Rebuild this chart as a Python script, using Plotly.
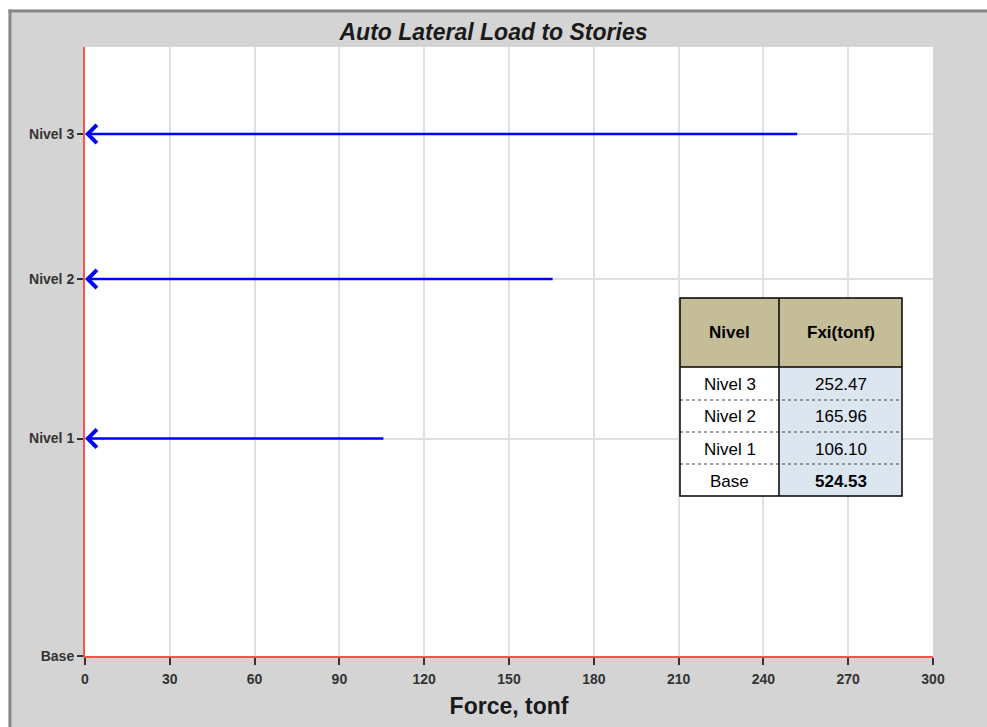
import plotly.graph_objects as go

# ---- data ----
levels = ["Base", "Nivel 1", "Nivel 2", "Nivel 3"]
elevations = [0.0, 4.5, 7.8, 10.8]          # story elevations (read from spacing)
forces = [0.0, 106.10, 165.96, 252.47]       # Fxi (tonf)
table_header = ["Nivel", "Fxi(tonf)"]
table_levels = ["Nivel 3", "Nivel 2", "Nivel 1", "Base"]
table_values = ["252.47", "165.96", "106.10", "524.53"]
x_ticks = [0, 30, 60, 90, 120, 150, 180, 210, 240, 270, 300]

W, H = 987, 727
L, R, T, B = 85, 54, 47, 71
pw, ph = W - L - R, H - T - B

def px_x(p):
    return (p - L) / pw

def px_y(p):
    return (H - B - p) / ph

fig = go.Figure()

# invisible trace to set up axes
fig.add_trace(go.Scatter(x=[0, 300], y=[0, 12.6], mode="markers",
                         marker=dict(opacity=0), hoverinfo="skip", showlegend=False))

# arrows
for lvl, e, f in zip(levels, elevations, forces):
    if f <= 0:
        continue
    fig.add_annotation(x=0, y=e, ax=f, ay=e, xref="x", yref="y", axref="x", ayref="y",
                       text="", showarrow=True, arrowhead=4, arrowsize=1.4,
                       arrowwidth=2.5, arrowcolor="#0000FF", standoff=0, startstandoff=0)

# frame: white strip on top/left, dark border
shapes = [
    dict(type="rect", xref="paper", yref="paper", x0=px_x(-5), x1=px_x(W + 5),
         y0=px_y(9.5), y1=px_y(-5), fillcolor="white", line=dict(width=0), layer="below"),
    dict(type="rect", xref="paper", yref="paper", x0=px_x(-5), x1=px_x(8.5),
         y0=px_y(H + 5), y1=px_y(-5), fillcolor="white", line=dict(width=0), layer="below"),
    dict(type="line", xref="paper", yref="paper", x0=px_x(8.5), x1=px_x(W + 5),
         y0=px_y(11), y1=px_y(11), line=dict(color="#878787", width=3), layer="below"),
    dict(type="line", xref="paper", yref="paper", x0=px_x(10), x1=px_x(10),
         y0=px_y(9.5), y1=px_y(H + 5), line=dict(color="#878787", width=3), layer="below"),
]

# table (drawn with shapes + text annotations)
cx = [680, 779, 902]
ry = [298, 367, 400, 432, 464, 496]
shapes.append(dict(type="rect", xref="paper", yref="paper", x0=px_x(cx[0]), x1=px_x(cx[2]),
                   y0=px_y(ry[1]), y1=px_y(ry[0]), fillcolor="#C4BD97", line=dict(width=0)))
shapes.append(dict(type="rect", xref="paper", yref="paper", x0=px_x(cx[0]), x1=px_x(cx[1]),
                   y0=px_y(ry[5]), y1=px_y(ry[1]), fillcolor="white", line=dict(width=0)))
shapes.append(dict(type="rect", xref="paper", yref="paper", x0=px_x(cx[1]), x1=px_x(cx[2]),
                   y0=px_y(ry[5]), y1=px_y(ry[1]), fillcolor="#DCE6F1", line=dict(width=0)))
for yy in ry[2:5]:
    shapes.append(dict(type="line", xref="paper", yref="paper", x0=px_x(cx[0]), x1=px_x(cx[2]),
                       y0=px_y(yy), y1=px_y(yy), line=dict(color="#444444", width=1.2, dash="dot")))
shapes.append(dict(type="line", xref="paper", yref="paper", x0=px_x(cx[0]), x1=px_x(cx[2]),
                   y0=px_y(ry[1]), y1=px_y(ry[1]), line=dict(color="black", width=1.5)))
shapes.append(dict(type="line", xref="paper", yref="paper", x0=px_x(cx[1]), x1=px_x(cx[1]),
                   y0=px_y(ry[5]), y1=px_y(ry[0]), line=dict(color="black", width=1.5)))
shapes.append(dict(type="rect", xref="paper", yref="paper", x0=px_x(cx[0]), x1=px_x(cx[2]),
                   y0=px_y(ry[5]), y1=px_y(ry[0]), fillcolor="rgba(0,0,0,0)",
                   line=dict(color="black", width=1.5)))

tfont = dict(family="Liberation Sans, Arial", size=17, color="black")
for j, h in enumerate(table_header):
    fig.add_annotation(xref="paper", yref="paper", x=px_x((cx[j] + cx[j + 1]) / 2),
                       y=px_y((ry[0] + ry[1]) / 2), text=f"<b>{h}</b>", showarrow=False,
                       font=tfont, xanchor="center", yanchor="middle")
for i, (lv, val) in enumerate(zip(table_levels, table_values)):
    yc = px_y((ry[i + 1] + ry[i + 2]) / 2 + 1)
    fig.add_annotation(xref="paper", yref="paper", x=px_x((cx[0] + cx[1]) / 2), y=yc,
                       text=lv, showarrow=False, font=tfont, xanchor="center", yanchor="middle")
    txt = f"<b>{val}</b>" if lv == "Base" else val
    fig.add_annotation(xref="paper", yref="paper", x=px_x((cx[1] + cx[2]) / 2), y=yc,
                       text=txt, showarrow=False, font=tfont, xanchor="center", yanchor="middle")

fig.update_layout(
    width=W, height=H,
    margin=dict(l=L, r=R, t=T, b=B),
    paper_bgcolor="#D4D4D4",
    plot_bgcolor="white",
    shapes=shapes,
    showlegend=False,
    title=dict(text="<b><i>Auto Lateral Load to Stories</i></b>", x=0.5, xanchor="center",
               y=1 - 32 / H, yanchor="middle",
               font=dict(family="Liberation Sans, Arial", size=23, color="#1a1a1a")),
    font=dict(family="Liberation Sans, Arial", color="#333333"),
)

fig.update_xaxes(range=[0, 300], tickvals=x_ticks, ticktext=[f"<b>{v}</b>" for v in x_ticks],
                 showgrid=True, gridcolor="#E0E0E0", gridwidth=1.5,
                 zeroline=False, showline=True, linecolor="#FF5050", linewidth=2,
                 ticks="outside", ticklen=7, tickwidth=1.5, tickcolor="#333333",
                 tickfont=dict(size=14, color="#333333"), ticklabelstandoff=2,
                 title=dict(text="<b>Force, tonf</b>", standoff=12,
                            font=dict(size=23, color="#1a1a1a")),
                 fixedrange=True)
fig.update_yaxes(range=[0, 12.6], tickvals=elevations, ticktext=[f"<b>{t}</b>" for t in levels],
                 showgrid=True, gridcolor="#E0E0E0", gridwidth=1.5,
                 zeroline=False, showline=True, linecolor="#FF5050", linewidth=2,
                 ticks="outside", ticklen=6, tickwidth=1.5, tickcolor="#333333",
                 tickfont=dict(size=14, color="#333333"),
                 fixedrange=True)

fig.write_html("out.html", config={"displayModeBar": False},
               post_script="document.body.style.margin='0';document.body.style.padding='0';")
